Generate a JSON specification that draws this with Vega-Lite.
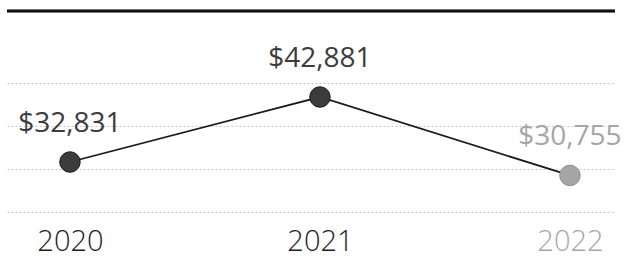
{
  "$schema": "https://vega.github.io/schema/vega-lite/v6.json",
  "autosize": "none",
  "width": 608,
  "height": 201,
  "padding": {"left": 7, "top": 11, "right": 12, "bottom": 46},
  "background": "white",
  "config": {"view": {"stroke": null}, "font": "Open Sans"},
  "data": {"values": [
    {"year": "2020", "value": 32831, "label": "$32,831", "tone": "dark"},
    {"year": "2021", "value": 42881, "label": "$42,881", "tone": "dark"},
    {"year": "2022", "value": 30755, "label": "$30,755", "tone": "light"}
  ]},
  "encoding": {
    "x": {
      "field": "year", "type": "ordinal",
      "scale": {"type": "point", "padding": 0.216, "align": 0.583},
      "axis": {
        "title": null, "domain": false, "ticks": false, "grid": false,
        "labelAngle": 0, "labelFontSize": 29, "labelFont": "Open Sans", "labelFontWeight": 300,
        "labelPadding": 15,
        "labelColor": {"condition": {"test": "datum.value == '2022'", "value": "#a8a8a8"}, "value": "#1e1e1e"}
      }
    },
    "y": {
      "field": "value", "type": "quantitative",
      "scale": {"domain": [25100, 56180], "nice": false, "zero": false},
      "axis": {
        "title": null, "domain": false, "ticks": false, "labels": false,
        "values": [25100, 31750, 38400, 45050],
        "grid": true, "gridColor": "#c8c8c8", "gridDash": [2, 2], "gridWidth": 1
      }
    }
  },
  "layer": [
    {
      "mark": {"type": "rule", "color": "#111", "strokeWidth": 2.5},
      "encoding": {"x": null, "y": {"datum": 56180, "type": "quantitative"}}
    },
    {
      "mark": {"type": "line", "color": "#1a1a1a", "strokeWidth": 1.8}
    },
    {
      "mark": {"type": "point", "filled": true, "size": 420, "opacity": 1, "strokeWidth": 1},
      "encoding": {
        "color": {"field": "tone", "type": "nominal", "scale": {"domain": ["dark", "light"], "range": ["#3c3c3c", "#a6a6a6"]}, "legend": null},
        "stroke": {"field": "tone", "type": "nominal", "scale": {"domain": ["dark", "light"], "range": ["#1a1a1a", "#8c8c8c"]}, "legend": null}
      }
    },
    {
      "mark": {"type": "text", "fontSize": 28, "font": "Open Sans", "baseline": "alphabetic", "dy": -30},
      "encoding": {
        "text": {"field": "label"},
        "color": {"field": "tone", "type": "nominal", "scale": {"domain": ["dark", "light"], "range": ["#1e1e1e", "#a8a8a8"]}, "legend": null}
      }
    }
  ]
}
